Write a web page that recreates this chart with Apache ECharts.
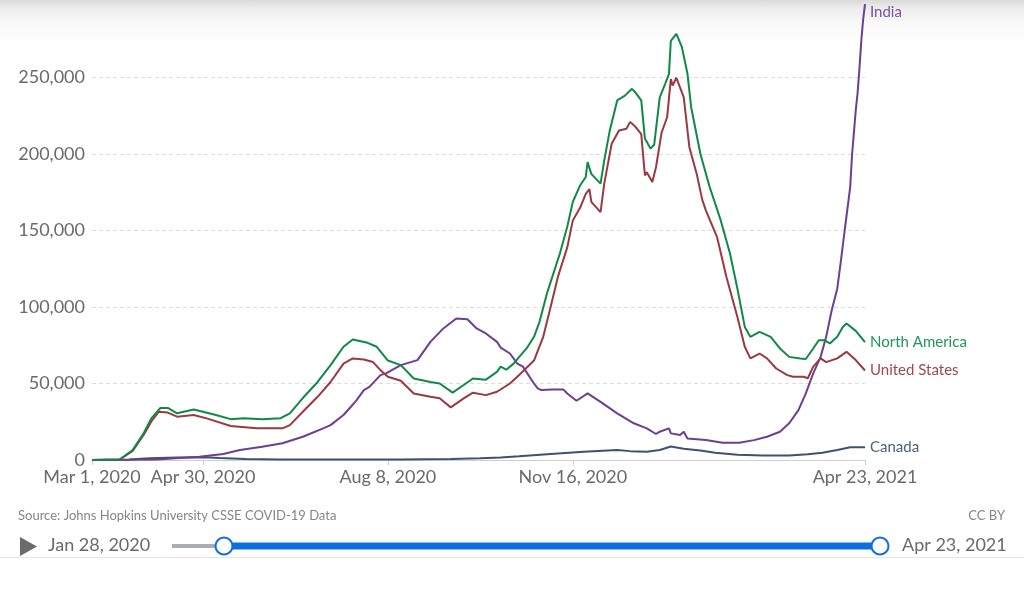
<!DOCTYPE html>
<html>
<head>
<meta charset="utf-8">
<script src="https://cdn.jsdelivr.net/npm/echarts@6/dist/echarts.min.js"></script>
<style>
html,body{margin:0;padding:0;width:1024px;height:593px;overflow:hidden;
  background:linear-gradient(to bottom,#dadada 0px,#ececec 8px,#f8f8f8 22px,#ffffff 44px);}
#chart{width:1024px;height:593px;}
</style>
</head>
<body>
<div id="chart"></div>
<script>
// x values are days since Mar 1, 2020
const tickDays = [0, 60, 160, 260, 418];
const tickLabels = ['Mar 1, 2020', 'Apr 30, 2020', 'Aug 8, 2020', 'Nov 16, 2020', 'Apr 23, 2021'];
const yTicks = [0, 50000, 100000, 150000, 200000, 250000];

const naDays = [0,15,22,28,32,37,41,46,55,60,67,75,82,92,102,107,114,122,129,136,141,149,154,160,167,174,183,188,195,201,206,213,219,221,224,228,231,235,239,242,246,249,253,257,260,264,267,268,270,275,277,280,284,288,292,294,297,299,300,302,304,307,310,312,313,316,319,322,324,329,334,340,345,349,353,356,361,367,372,377,383,386,390,393,396,399,403,406,408,413,418];
const naCases = [0,300,6500,17600,27000,34000,34000,30500,33000,31500,29400,26700,27300,26700,27300,30500,40500,51000,62000,74000,78800,76600,74000,65000,62000,53300,51000,50000,44000,49000,53300,52500,57600,61000,59000,63000,67400,72900,80500,90300,108800,120000,135000,152400,168700,179600,185000,194700,187000,180600,195800,215400,235000,238000,242600,240000,235000,210000,208000,203500,206000,237000,246000,252400,274000,278500,269800,252400,230600,200000,178400,156600,135000,112000,87000,80500,83800,80500,72900,67400,66400,66000,72900,78300,78300,76200,80500,87000,89200,84400,77000];

const usDays = [0,15,22,28,32,36,41,46,55,62,75,89,103,107,114,122,129,136,141,147,152,156,160,167,174,183,188,194,201,206,213,219,226,231,239,244,248,252,257,260,264,267,269,270,275,277,281,285,289,291,294,297,299,300,303,305,308,311,313,314,316,320,323,327,330,332,338,343,349,353,356,361,365,370,376,379,385,387,390,394,397,403,408,413,418];
const usCases = [0,300,6000,16500,25000,31500,31000,28300,29400,27200,22200,20700,20700,22800,31500,41300,51000,63000,66400,65700,64000,58700,54400,51800,43500,41300,40300,34400,40300,44000,42400,44600,50000,55500,65000,80500,100000,120000,139000,156600,165000,174000,177000,168700,162000,180600,206700,215400,216500,221000,217600,213000,186000,188000,181700,191500,214000,224000,249000,244800,249800,237000,204600,187000,170000,163000,145700,120000,93500,74000,66400,69600,66400,59800,55500,54400,54400,53300,61000,66400,64000,66400,70700,65300,58500];

const inDays = [0,20,35,58,71,80,92,103,114,125,129,136,140,143,147,150,156,159,167,176,183,190,197,203,208,213,219,221,226,230,233,239,241,243,249,255,257,262,268,275,284,293,300,305,307,312,313,318,320,322,332,341,350,358,365,372,377,382,386,390,394,397,400,403,405,407,410,411,413,414,415,416,417,418];
const inCases = [0,100,300,2200,3900,6500,8700,10900,15200,20700,22800,29400,34800,39000,45700,47800,55500,56600,62000,65300,77200,86000,92500,92000,86000,82700,77200,73500,69600,63000,61000,50000,46800,45700,46000,46000,43500,38700,43500,38000,30500,24000,20700,17000,18500,20700,17400,16300,18500,14100,13000,11300,11300,13000,15200,18500,24000,32600,43500,56600,67400,80500,97900,112000,130500,150000,178400,199500,228500,240000,256000,274000,288000,298000];

const caDays = [0,20,31,46,61,69,83,102,129,167,194,210,221,231,248,266,284,291,300,307,313,320,329,337,349,363,377,387,395,403,410,418];
const caCases = [0,300,1200,1600,1800,1300,700,400,350,400,600,1200,1700,2500,4000,5400,6500,5800,5400,6500,8800,7300,6200,4800,3400,3000,3000,3700,4800,6500,8300,8400];

const zip = (d, v) => d.map((x, i) => [x, v[i]]);
const FONT = 'Lato, "Noto Sans", sans-serif';

function mkSeries(name, days, vals, lineColor, labelColor, offset) {
  return {
    name: name, type: 'line', data: zip(days, vals), showSymbol: false, symbol: 'none',
    lineStyle: { width: 2, color: lineColor }, itemStyle: { color: lineColor },
    emphasis: { disabled: true }, animation: false,
    endLabel: { show: true, formatter: '{a}', color: labelColor, fontFamily: FONT, fontSize: 15,
      distance: 5, offset: offset || [0, 0] }
  };
}

const chart = echarts.init(document.getElementById('chart'), null, { renderer: 'canvas' });
chart.setOption({
  backgroundColor: 'transparent',
  animation: false,
  grid: { left: 92, right: 159, top: 1, bottom: 133, containLabel: false },
  xAxis: {
    type: 'value', min: 0, max: 418,
    axisLine: { show: true, lineStyle: { color: '#cfcfcf', width: 1 } },
    axisTick: { show: true, length: 5, lineStyle: { color: '#cfcfcf' }, customValues: tickDays },
    axisLabel: { customValues: tickDays, color: '#6a6a6a', fontFamily: FONT, fontSize: 18, margin: 8,
      formatter: v => { const i = tickDays.indexOf(v); return i >= 0 ? tickLabels[i] : ''; } },
    splitLine: { show: false }
  },
  yAxis: {
    type: 'value', min: 0, max: 300000, interval: 50000,
    axisLine: { show: false }, axisTick: { show: false },
    axisLabel: { color: '#6a6a6a', fontFamily: FONT, fontSize: 18, margin: 7, showMaxLabel: false,
      formatter: v => yTicks.indexOf(v) >= 0 ? v.toLocaleString('en-US') : '' },
    splitLine: { show: true, showMinLine: false, showMaxLine: false,
      lineStyle: { color: '#dddddd', type: [4, 3], width: 1 } }
  },
  series: [
    mkSeries('Canada', caDays, caCases, '#3e5170', '#4d5f7c'),
    mkSeries('India', inDays, inCases, '#6d3e91', '#7a519b', [0, 8]),
    mkSeries('United States', usDays, usCases, '#9a3a40', '#a24850'),
    mkSeries('North America', naDays, naCases, '#0e8a46', '#1f9856')
  ],
  graphic: [
    { type: 'text', left: 18, top: 509, style: { text: 'Source: Johns Hopkins University CSSE COVID-19 Data', fill: '#858585', font: '13px ' + FONT } },
    { type: 'text', right: 19, top: 509, style: { text: 'CC BY', fill: '#858585', font: '13px ' + FONT } },
    { type: 'polygon', shape: { points: [[20, 537], [37, 546.5], [20, 556]] }, style: { fill: '#6b6b6b' } },
    { type: 'text', left: 48, top: 536, style: { text: 'Jan 28, 2020', fill: '#6a6a6a', font: '18px ' + FONT } },
    { type: 'line', shape: { x1: 172, y1: 546, x2: 224, y2: 546 }, style: { stroke: '#a9adb5', lineWidth: 4 } },
    { type: 'line', shape: { x1: 224, y1: 546, x2: 880, y2: 546 }, style: { stroke: '#0a6fdf', lineWidth: 7 } },
    { type: 'circle', shape: { cx: 224, cy: 546, r: 8.5 }, style: { fill: '#ffffff', stroke: '#0a6fdf', lineWidth: 2 } },
    { type: 'circle', shape: { cx: 880, cy: 546, r: 8.5 }, style: { fill: '#ffffff', stroke: '#0a6fdf', lineWidth: 2 } },
    { type: 'text', left: 902, top: 536, style: { text: 'Apr 23, 2021', fill: '#6a6a6a', font: '18px ' + FONT } },
    { type: 'line', shape: { x1: 0, y1: 557.5, x2: 1024, y2: 557.5 }, style: { stroke: '#e6e6e6', lineWidth: 1 } }
  ]
});
</script>
</body>
</html>
